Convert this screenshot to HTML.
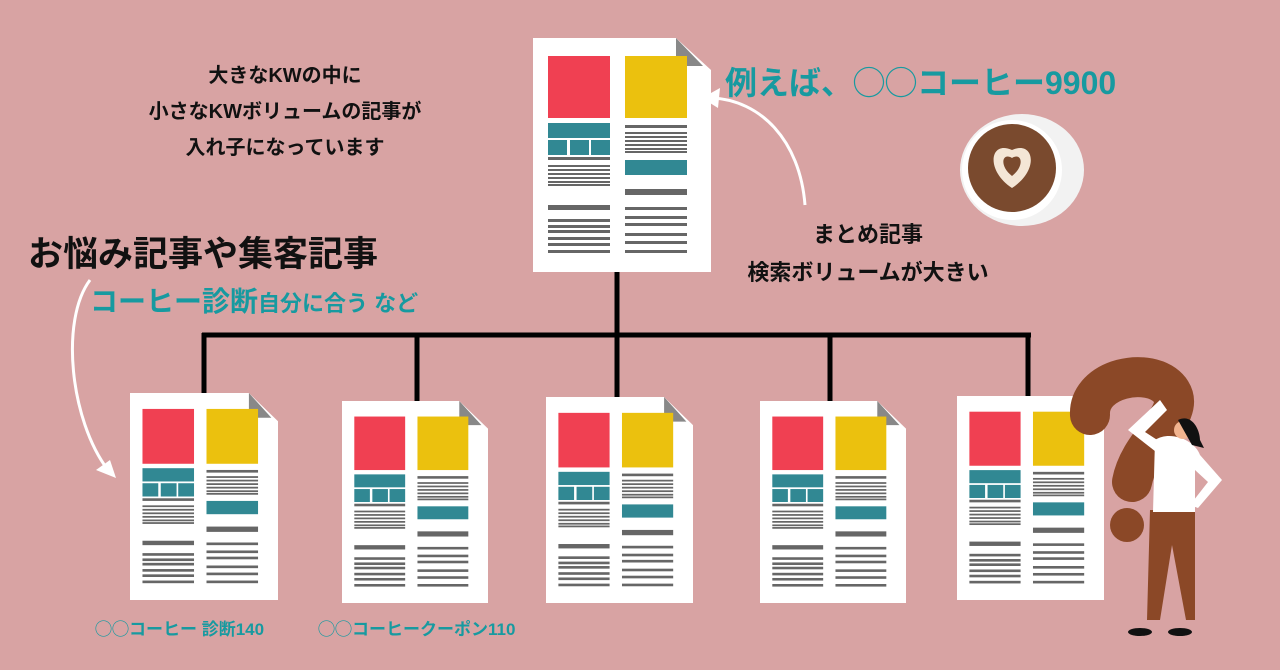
<!DOCTYPE html>
<html><head><meta charset="utf-8"><style>
body{margin:0;background:#d8a3a3;}
.wrap{position:relative;width:1280px;height:670px;overflow:hidden;background:#d8a3a3;font-family:"Liberation Sans","Noto Sans CJK JP",sans-serif;}
.t{position:absolute;white-space:nowrap;}
</style></head><body><div class="wrap">
<svg width="1280" height="670" style="position:absolute;left:0;top:0">
<defs>
<symbol id="doc" viewBox="0 0 178 234" preserveAspectRatio="none">
<polygon points="0,0 143,0 178,32 178,234 0,234" fill="#fff"/>
<polygon points="143,0 170,28 143,28" fill="#888"/>
<rect x="15" y="18" width="62" height="62" fill="#f04052"/>
<rect x="92" y="18" width="62" height="62" fill="#ebc10e"/>
<rect x="15" y="85" width="62" height="15" fill="#318893"/>
<rect x="15" y="102" width="19" height="15" fill="#318893"/>
<rect x="37" y="102" width="19" height="15" fill="#318893"/>
<rect x="58" y="102" width="19" height="15" fill="#318893"/>
<g fill="#666">
<rect x="15" y="119" width="62" height="3"/><rect x="15" y="127" width="62" height="2"/><rect x="15" y="131" width="62" height="2"/><rect x="15" y="135" width="62" height="2"/><rect x="15" y="139" width="62" height="2"/><rect x="15" y="143" width="62" height="2"/><rect x="15" y="146" width="62" height="2"/>
<rect x="15" y="167" width="62" height="5"/><rect x="15" y="181" width="62" height="3"/><rect x="15" y="187" width="62" height="3"/><rect x="15" y="192" width="62" height="3"/><rect x="15" y="199" width="62" height="3"/><rect x="15" y="205" width="62" height="3"/><rect x="15" y="212" width="62" height="3"/>
<rect x="92" y="87" width="62" height="3"/><rect x="92" y="94" width="62" height="2"/><rect x="92" y="98" width="62" height="2"/><rect x="92" y="102" width="62" height="2"/><rect x="92" y="106" width="62" height="2"/><rect x="92" y="110" width="62" height="2"/><rect x="92" y="113" width="62" height="2"/>
<rect x="92" y="151" width="62" height="6"/><rect x="92" y="169" width="62" height="3"/><rect x="92" y="178" width="62" height="3"/><rect x="92" y="185" width="62" height="3"/><rect x="92" y="195" width="62" height="3"/><rect x="92" y="203" width="62" height="3"/><rect x="92" y="212" width="62" height="3"/>
</g>
<rect x="92" y="122" width="62" height="15" fill="#318893"/>
</symbol>
</defs>
<g stroke="#000" stroke-width="5" fill="none">
<line x1="617" y1="270" x2="617" y2="335"/>
<line x1="202" y1="335" x2="1031" y2="335"/>
<line x1="204" y1="333" x2="204" y2="395"/>
<line x1="417" y1="333" x2="417" y2="402"/>
<line x1="617" y1="333" x2="617" y2="398"/>
<line x1="830" y1="333" x2="830" y2="402"/>
<line x1="1028" y1="333" x2="1028" y2="397"/>
</g>
<use href="#doc" x="533" y="38" width="178" height="234"/>
<use href="#doc" x="130" y="393" width="148" height="207"/>
<use href="#doc" x="342" y="401" width="146" height="202"/>
<use href="#doc" x="546" y="397" width="147" height="206"/>
<use href="#doc" x="760" y="401" width="146" height="202"/>
<use href="#doc" x="957" y="396" width="147" height="204"/>
<!-- question mark -->
<path d="M1090,415 C1088,378 1150,365 1170,390 C1188,415 1140,440 1132,482" stroke="#8b4827" stroke-width="40" fill="none" stroke-linecap="round"/>
<circle cx="1127" cy="525" r="17" fill="#8b4827"/>
<!-- woman -->
<path d="M1150,510 L1195,510 L1195,620 L1186,620 L1172,545 L1160,620 L1147,620 Z" fill="#8b4827"/>
<path d="M1155,440 C1170,430 1195,440 1200,455 L1222,480 L1198,508 L1190,505 L1208,482 L1195,470 L1195,512 L1153,512 Z" fill="#fff"/>
<path d="M1128,430 L1160,400 L1167,410 L1145,432 L1165,445 L1160,455 Z" fill="#fff"/>
<circle cx="1183" cy="430" r="9" fill="#f2b48f"/>
<path d="M1178,420 C1192,413 1200,430 1200,440 L1204,448 L1192,445 Z" fill="#111"/>
<ellipse cx="1140" cy="632" rx="12" ry="4" fill="#111"/><ellipse cx="1180" cy="632" rx="12" ry="4" fill="#111"/>
<!-- white arrows -->
<path d="M805,205 C800,140 760,100 712,98" stroke="#fff" stroke-width="3" fill="none"/>
<polygon points="702,98 720,88 718,108" fill="#fff"/>
<path d="M90,280 C60,320 70,420 108,470" stroke="#fff" stroke-width="3" fill="none"/>
<polygon points="116,478 96,470 110,460" fill="#fff"/>
<!-- coffee -->
<ellipse cx="1022" cy="170" rx="62" ry="56" fill="#f2f2f2"/>
<circle cx="1012" cy="170" r="50" fill="#fff"/>
<circle cx="1012" cy="168" r="44" fill="#7a4a2e"/>
<path d="M1012,150 C990,140 985,170 1012,188 C1040,170 1034,140 1012,150Z" fill="#f4e6d6"/>
<path d="M1012,158 C1002,152 999,166 1012,176 C1025,166 1022,152 1012,158Z" fill="#7a4a2e"/>
</svg>
<div class="t" style="left:285px;top:58px;transform:translateX(-50%);font-size:20px;line-height:36px;text-align:center;color:#111;font-weight:bold">大きなKWの中に<br>小さなKWボリュームの記事が<br>入れ子になっています</div>
<div class="t" style="left:28px;top:226px;font-size:35px;color:#111;font-weight:bold">お悩み記事や集客記事</div>
<div class="t" style="left:90px;top:280px;font-size:28px;color:#179aa0;font-weight:bold">コーヒー診断<span style="font-size:22px">自分に合う など</span></div>
<div class="t" style="left:725px;top:58px;font-size:32px;color:#179aa0;font-weight:bold">例えば、◯◯コーヒー9900</div>
<div class="t" style="left:868px;top:216px;transform:translateX(-50%);font-size:22px;line-height:38px;text-align:center;color:#111;font-weight:bold">まとめ記事<br>検索ボリュームが大きい</div>
<div class="t" style="left:95px;top:615px;font-size:17px;color:#179aa0;font-weight:bold">◯◯コーヒー 診断140</div>
<div class="t" style="left:318px;top:615px;font-size:17px;color:#179aa0;font-weight:bold">◯◯コーヒークーポン110</div>
</div></body></html>
